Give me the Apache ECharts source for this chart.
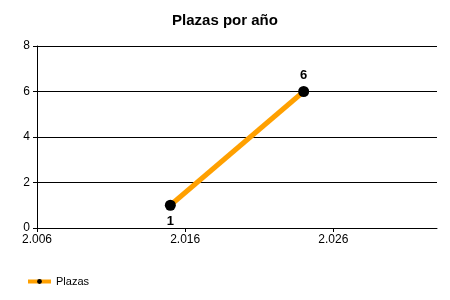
<!DOCTYPE html>
<html>
<head>
<meta charset="utf-8">
<script src="https://cdn.jsdelivr.net/npm/echarts@6/dist/echarts.min.js"></script>
<style>
    html, body { margin: 0; padding: 0; background: #fff; }
    #chart { width: 450px; height: 300px; }
</style>
</head>
<body>
<div id="chart"></div>
<script>
// datos
var years = [2015, 2024];
var plazas = [1, 6];
var xTicks = [2006, 2016, 2026];
var labelPos = ['bottom', 'top'];

var chart = echarts.init(document.getElementById('chart'));

var points = [];
for (var i = 0; i < years.length; i++) {
    points.push({ value: [years[i], plazas[i]], label: { position: labelPos[i] } });
}

function fmtYear(v) {
    // 2006 -> 2.006
    var s = String(Math.round(v));
    return s.length > 3 ? s.slice(0, s.length - 3) + '.' + s.slice(-3) : s;
}

chart.setOption({
    animation: false,
    title: {
        text: 'Plazas por año',
        left: 'center',
        top: 8,
        textStyle: { fontFamily: 'Liberation Sans', fontSize: 15, fontWeight: 'bold', color: '#000' }
    },
    legend: {
        left: 21,
        top: 271,
        itemWidth: 23,
        itemHeight: 6,
        itemGap: 4,
        data: [{
            name: 'Plazas',
            lineStyle: { color: '#FFA000', width: 4 },
            itemStyle: { color: '#000' }
        }],
        textStyle: { fontFamily: 'Liberation Sans', fontSize: 11, color: '#000' }
    },
    grid: { left: 37, right: 13, top: 46, bottom: 72, containLabel: false },
    xAxis: {
        type: 'value',
        min: 2006,
        max: 2033,
        interval: 10,
        splitLine: { show: false },
        axisLine: { lineStyle: { color: '#000', width: 1 } },
        axisTick: { show: true, length: 4, customValues: xTicks, lineStyle: { color: '#000' } },
        axisLabel: {
            customValues: xTicks,
            formatter: fmtYear,
            fontFamily: 'Liberation Sans', fontSize: 12, color: '#000', margin: 6
        }
    },
    yAxis: {
        type: 'value',
        min: 0,
        max: 8,
        interval: 2,
        axisLine: { show: true, lineStyle: { color: '#000', width: 1 } },
        axisTick: { show: true, length: 4, lineStyle: { color: '#000' } },
        splitLine: { show: true, lineStyle: { color: '#000', width: 1 } },
        axisLabel: { fontFamily: 'Liberation Sans', fontSize: 12, color: '#000', margin: 7 }
    },
    series: [
        {
            name: 'Plazas',
            type: 'line',
            data: points,
            symbol: 'circle',
            symbolSize: 11,
            itemStyle: { color: '#000' },
            lineStyle: { color: '#FFA000', width: 5 },
            label: {
                show: true,
                distance: 4,
                fontFamily: 'Liberation Sans', fontSize: 13, fontWeight: 'bold', color: '#000'
            }
        }
    ]
});
</script>
</body>
</html>
